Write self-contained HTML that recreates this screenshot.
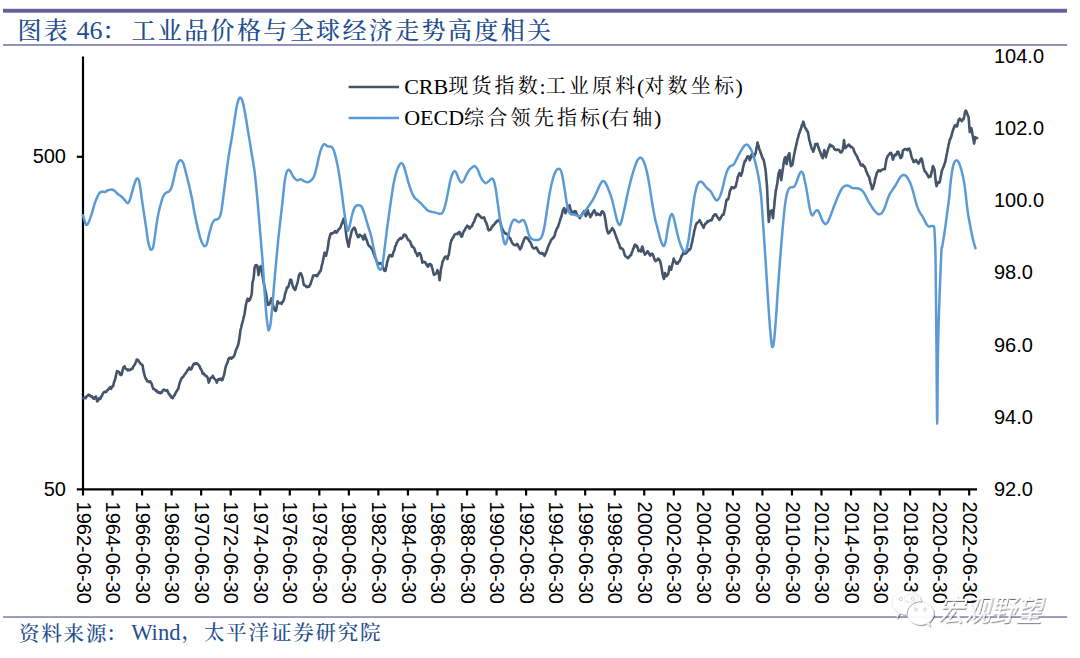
<!DOCTYPE html>
<html lang="zh-CN">
<head>
<meta charset="utf-8">
<title>图表 46: 工业品价格与全球经济走势高度相关</title>
<style>
html,body{margin:0;padding:0;background:#fff;}
body{width:1080px;height:658px;overflow:hidden;position:relative;}
svg{position:absolute;left:0;top:0;display:block;}
.ax{font-family:"Liberation Sans", sans-serif;font-size:20px;fill:#000;}
.ttl{fill:#1f4e8f;font-weight:500;}
.lat{font-family:"Liberation Serif", serif;}
.cjk{font-family:"Liberation Serif", "Noto Serif CJK SC", serif;}
.lg{fill:#000;}
.wm{font-family:"Liberation Sans","Noto Sans CJK SC",sans-serif;font-size:28.5px;fill:#fff;font-weight:400;}
</style>
</head>
<body>
<svg width="1080" height="658" viewBox="0 0 1080 658">
<defs>
<filter id="sh" x="-10%" y="-10%" width="125%" height="130%">
<feDropShadow dx="1.0" dy="1.0" stdDeviation="0.3" flood-color="#000" flood-opacity="0.7"/>
</filter>
<filter id="sh2" x="-10%" y="-10%" width="125%" height="130%">
<feDropShadow dx="0.9" dy="0.9" stdDeviation="0.3" flood-color="#000" flood-opacity="0.6"/>
</filter>
</defs>
<rect width="1080" height="658" fill="#fff"/>

<rect x="3" y="8.8" width="1064" height="3.9" fill="#62619a"/>
<rect x="3" y="44" width="1064.2" height="1.9" fill="#8c8bb9"/>
<rect x="3" y="616.2" width="1064.2" height="1.7" fill="#8c8bb9"/>
<g class="ttl" id="title">
<text class="cjk" x="17.5" y="39" font-size="24" letter-spacing="2.3">图表</text>
<text class="lat" x="76.6" y="39.2" font-size="26">46</text>
<text class="cjk" x="102.2" y="39" font-size="24">：</text>
<text class="cjk" x="131.5" y="39" font-size="24" letter-spacing="2.37">工业品价格与全球经济走势高度相关</text>
</g>
<g class="ttl" id="source">
<text class="cjk" x="19" y="640.5" font-size="20.5" letter-spacing="1.8">资料来源</text>
<text class="cjk" x="106.2" y="640.5" font-size="20.5">：</text>
<text class="lat" x="131.2" y="639.9" font-size="22.6">Wind</text>
<text class="cjk" x="181.6" y="639.2" font-size="20.5">，</text>
<text class="cjk" x="204" y="639.8" font-size="20.5" letter-spacing="1.8">太平洋证券研究院</text>
</g>
<g stroke="#000" stroke-width="2.2" fill="none" stroke-linecap="butt">
<path d="M83.0,56.5 V495.5"/>
<path d="M76.8,489.3 H977.0"/>
<path d="M76.8,156.8 H83.0"/>
<path d="M112.54,489.3 v6.2 M142.08,489.3 v6.2 M171.62,489.3 v6.2 M201.16,489.3 v6.2 M230.70,489.3 v6.2 M260.24,489.3 v6.2 M289.78,489.3 v6.2 M319.32,489.3 v6.2 M348.86,489.3 v6.2 M378.40,489.3 v6.2 M407.94,489.3 v6.2 M437.48,489.3 v6.2 M467.02,489.3 v6.2 M496.56,489.3 v6.2 M526.10,489.3 v6.2 M555.64,489.3 v6.2 M585.18,489.3 v6.2 M614.72,489.3 v6.2 M644.26,489.3 v6.2 M673.80,489.3 v6.2 M703.34,489.3 v6.2 M732.88,489.3 v6.2 M762.42,489.3 v6.2 M791.96,489.3 v6.2 M821.50,489.3 v6.2 M851.04,489.3 v6.2 M880.58,489.3 v6.2 M910.12,489.3 v6.2 M939.66,489.3 v6.2 M969.20,489.3 v6.2"/>
</g>
<text class="ax" x="66" y="163.4" text-anchor="end">500</text>
<text class="ax" x="66" y="495.9" text-anchor="end">50</text>
<text class="ax" x="994" y="63.1">104.0</text>
<text class="ax" x="994" y="135.2">102.0</text>
<text class="ax" x="994" y="207.3">100.0</text>
<text class="ax" x="994" y="279.4">98.0</text>
<text class="ax" x="994" y="351.5">96.0</text>
<text class="ax" x="994" y="423.6">94.0</text>
<text class="ax" x="994" y="495.7">92.0</text>
<text class="ax" transform="translate(76.60,501.6) rotate(90)">1962-06-30</text>
<text class="ax" transform="translate(106.14,501.6) rotate(90)">1964-06-30</text>
<text class="ax" transform="translate(135.68,501.6) rotate(90)">1966-06-30</text>
<text class="ax" transform="translate(165.22,501.6) rotate(90)">1968-06-30</text>
<text class="ax" transform="translate(194.76,501.6) rotate(90)">1970-06-30</text>
<text class="ax" transform="translate(224.30,501.6) rotate(90)">1972-06-30</text>
<text class="ax" transform="translate(253.84,501.6) rotate(90)">1974-06-30</text>
<text class="ax" transform="translate(283.38,501.6) rotate(90)">1976-06-30</text>
<text class="ax" transform="translate(312.92,501.6) rotate(90)">1978-06-30</text>
<text class="ax" transform="translate(342.46,501.6) rotate(90)">1980-06-30</text>
<text class="ax" transform="translate(372.00,501.6) rotate(90)">1982-06-30</text>
<text class="ax" transform="translate(401.54,501.6) rotate(90)">1984-06-30</text>
<text class="ax" transform="translate(431.08,501.6) rotate(90)">1986-06-30</text>
<text class="ax" transform="translate(460.62,501.6) rotate(90)">1988-06-30</text>
<text class="ax" transform="translate(490.16,501.6) rotate(90)">1990-06-30</text>
<text class="ax" transform="translate(519.70,501.6) rotate(90)">1992-06-30</text>
<text class="ax" transform="translate(549.24,501.6) rotate(90)">1994-06-30</text>
<text class="ax" transform="translate(578.78,501.6) rotate(90)">1996-06-30</text>
<text class="ax" transform="translate(608.32,501.6) rotate(90)">1998-06-30</text>
<text class="ax" transform="translate(637.86,501.6) rotate(90)">2000-06-30</text>
<text class="ax" transform="translate(667.40,501.6) rotate(90)">2002-06-30</text>
<text class="ax" transform="translate(696.94,501.6) rotate(90)">2004-06-30</text>
<text class="ax" transform="translate(726.48,501.6) rotate(90)">2006-06-30</text>
<text class="ax" transform="translate(756.02,501.6) rotate(90)">2008-06-30</text>
<text class="ax" transform="translate(785.56,501.6) rotate(90)">2010-06-30</text>
<text class="ax" transform="translate(815.10,501.6) rotate(90)">2012-06-30</text>
<text class="ax" transform="translate(844.64,501.6) rotate(90)">2014-06-30</text>
<text class="ax" transform="translate(874.18,501.6) rotate(90)">2016-06-30</text>
<text class="ax" transform="translate(903.72,501.6) rotate(90)">2018-06-30</text>
<text class="ax" transform="translate(933.26,501.6) rotate(90)">2020-06-30</text>
<text class="ax" transform="translate(962.80,501.6) rotate(90)">2022-06-30</text>
<path d="M83.0,398.2 L83.7,397.9 L84.3,397.6 L84.9,398.2 L85.6,398.2 L86.2,396.8 L86.8,396.6 L87.4,395.7 L88.0,395.2 L88.6,394.7 L89.2,395.5 L89.8,395.2 L90.4,396.0 L91.0,396.6 L91.6,396.2 L92.2,396.6 L92.8,397.5 L93.4,398.8 L94.0,398.8 L94.7,397.6 L95.3,396.7 L96.0,396.6 L96.6,399.0 L97.2,401.3 L97.8,401.0 L98.5,399.6 L99.1,398.2 L99.6,398.1 L100.2,398.9 L100.7,398.2 L101.3,396.4 L101.9,396.1 L102.5,394.2 L103.1,393.2 L103.8,392.3 L104.4,391.9 L105.0,391.9 L105.7,392.2 L106.3,391.9 L106.9,390.5 L107.5,390.3 L108.1,389.6 L108.8,389.0 L109.4,387.9 L110.1,387.2 L110.6,388.0 L111.1,388.8 L111.8,387.2 L112.4,386.2 L113.1,386.2 L113.8,383.1 L114.4,381.6 L115.1,379.2 L115.8,376.4 L116.4,373.5 L117.1,371.2 L117.8,371.6 L118.4,371.8 L119.1,372.2 L119.6,373.1 L120.1,374.6 L120.6,375.0 L121.2,375.0 L121.7,374.6 L122.4,371.1 L123.1,368.2 L123.6,367.6 L124.0,366.9 L124.5,366.2 L125.2,367.8 L125.8,368.8 L126.5,369.2 L127.2,369.3 L127.8,370.4 L128.4,369.6 L129.1,370.2 L129.8,369.7 L130.5,370.0 L131.1,368.9 L131.8,368.9 L132.5,368.8 L133.2,366.6 L133.9,366.0 L134.6,364.6 L135.2,363.8 L135.7,362.3 L136.2,361.4 L136.8,359.5 L137.5,359.7 L138.2,360.1 L138.9,361.4 L139.5,362.3 L140.2,363.1 L140.8,363.8 L141.4,364.1 L142.0,365.2 L142.6,365.2 L143.2,369.6 L143.8,372.2 L144.5,374.9 L145.2,377.2 L145.9,378.9 L146.5,379.3 L147.2,381.2 L147.8,381.3 L148.4,381.5 L149.0,382.1 L149.6,382.0 L150.2,381.2 L150.7,382.1 L151.3,383.0 L151.8,384.2 L152.5,386.7 L153.2,388.8 L153.8,388.6 L154.5,389.5 L155.2,389.7 L155.8,390.8 L156.4,390.5 L157.0,390.8 L157.6,392.3 L158.2,392.6 L158.9,392.3 L159.5,392.4 L160.2,393.2 L160.9,392.4 L161.5,392.8 L162.2,391.8 L162.7,390.5 L163.3,390.1 L163.8,389.6 L164.5,389.7 L165.2,390.5 L165.8,390.7 L166.5,390.9 L167.2,390.2 L167.7,391.3 L168.2,392.4 L168.7,393.8 L169.4,394.2 L170.0,395.7 L170.7,395.8 L171.4,397.5 L172.0,397.1 L172.7,398.2 L173.4,396.6 L174.0,395.6 L174.7,395.2 L175.4,393.3 L176.0,392.3 L176.7,391.2 L177.2,390.5 L177.8,389.2 L178.3,388.8 L179.0,385.4 L179.6,383.3 L180.3,381.2 L181.0,379.5 L181.6,378.5 L182.3,377.2 L183.0,377.1 L183.6,376.1 L184.3,374.8 L185.0,374.1 L185.6,373.3 L186.3,372.2 L186.9,371.6 L187.5,369.8 L188.1,369.9 L188.7,369.1 L189.3,367.6 L190.0,368.9 L190.6,369.4 L191.3,369.2 L192.0,367.7 L192.6,366.0 L193.3,364.6 L194.0,363.7 L194.6,364.2 L195.2,363.3 L195.9,363.8 L196.6,363.2 L197.3,363.8 L198.0,364.1 L198.7,365.2 L199.2,365.8 L199.8,366.6 L200.3,368.6 L200.9,368.8 L201.5,370.3 L202.1,371.6 L202.7,373.8 L203.4,373.7 L204.1,373.6 L204.7,375.2 L205.4,375.2 L206.1,376.1 L206.7,376.1 L207.4,377.2 L207.9,378.5 L208.3,380.4 L208.8,382.6 L209.5,380.7 L210.1,378.7 L210.8,377.8 L211.5,377.5 L212.1,377.4 L212.8,375.8 L213.5,377.1 L214.1,378.1 L214.8,379.2 L215.5,379.7 L216.1,380.6 L216.8,382.6 L217.3,381.0 L217.9,379.8 L218.4,379.2 L219.1,379.6 L219.7,378.8 L220.4,379.2 L221.1,378.6 L221.7,380.3 L222.4,380.2 L222.9,378.7 L223.5,376.4 L224.0,375.2 L224.7,372.1 L225.3,368.4 L226.0,366.2 L226.6,364.2 L227.2,363.4 L227.8,361.7 L228.4,359.1 L228.9,359.0 L229.4,357.7 L230.1,357.8 L230.7,358.1 L231.4,358.7 L232.1,357.4 L232.7,357.7 L233.3,356.9 L234.0,356.1 L234.6,354.8 L235.2,352.5 L235.8,350.4 L236.4,349.1 L237.0,347.7 L237.6,346.5 L238.2,344.7 L238.8,342.1 L239.3,338.8 L239.9,334.8 L240.4,330.1 L241.1,328.1 L241.8,324.6 L242.5,322.2 L243.2,319.5 L243.8,316.7 L244.5,314.3 L245.2,309.5 L245.8,305.3 L246.5,302.3 L247.1,299.8 L247.7,298.7 L248.3,299.2 L248.9,300.9 L249.4,300.0 L250.0,299.7 L250.5,297.9 L251.1,296.2 L251.7,294.3 L252.1,289.0 L252.5,282.2 L253.1,280.7 L253.7,277.2 L254.1,273.7 L254.5,268.2 L255.0,266.8 L255.5,265.2 L256.1,265.1 L256.7,265.3 L257.3,266.2 L257.9,270.0 L258.5,275.2 L259.1,270.5 L259.7,267.2 L260.2,266.9 L260.6,267.2 L261.1,266.2 L261.8,271.9 L262.5,276.2 L263.2,279.7 L263.8,283.2 L264.5,286.2 L265.2,290.1 L265.8,292.4 L266.5,296.3 L267.1,300.4 L267.7,304.3 L268.3,304.9 L268.9,304.7 L269.5,303.9 L270.2,302.6 L270.8,300.3 L271.5,298.3 L272.2,300.8 L272.9,304.3 L273.4,306.5 L274.0,307.9 L274.5,309.9 L275.0,310.5 L275.6,311.1 L276.1,310.3 L276.6,307.4 L277.1,304.2 L277.6,301.3 L278.3,302.6 L278.9,303.2 L279.6,303.3 L280.3,303.1 L280.9,303.0 L281.6,303.9 L282.3,301.9 L282.9,301.9 L283.6,300.3 L284.3,298.2 L284.9,294.6 L285.6,292.3 L286.3,290.2 L287.0,287.2 L287.5,287.8 L288.1,287.1 L288.6,286.2 L289.1,284.0 L289.7,282.0 L290.2,279.8 L290.7,279.7 L291.1,279.8 L291.6,281.2 L292.3,284.4 L293.0,286.6 L293.7,288.1 L294.3,289.0 L295.0,290.0 L295.7,288.8 L296.3,286.2 L297.0,284.2 L297.7,281.8 L298.3,278.9 L299.0,275.2 L299.5,274.3 L300.1,273.4 L300.6,273.2 L301.3,274.2 L302.0,276.2 L302.7,278.6 L303.3,282.2 L304.0,285.2 L304.6,285.2 L305.2,285.8 L305.8,285.7 L306.4,286.8 L307.1,287.2 L307.8,286.6 L308.4,286.6 L309.1,286.6 L309.8,285.2 L310.4,284.3 L311.1,282.2 L311.8,280.1 L312.4,278.5 L313.1,275.6 L313.8,275.7 L314.4,275.4 L315.1,275.2 L315.8,275.6 L316.4,275.1 L317.1,276.2 L317.8,274.9 L318.4,273.6 L319.1,273.2 L319.8,271.2 L320.5,271.2 L321.2,268.7 L321.8,265.3 L322.5,263.1 L323.2,259.5 L323.8,256.5 L324.5,252.7 L325.0,253.9 L325.6,254.5 L326.1,255.7 L326.6,253.1 L327.2,250.7 L327.7,248.1 L328.2,245.6 L328.6,241.6 L329.1,239.1 L329.6,237.3 L330.2,235.1 L330.7,233.7 L331.3,233.1 L331.9,233.7 L332.5,233.3 L333.1,233.1 L333.8,232.5 L334.4,232.2 L335.1,231.0 L335.8,232.6 L336.5,232.6 L337.0,231.9 L337.6,231.1 L338.1,230.0 L338.8,229.4 L339.4,228.7 L340.1,228.0 L340.8,226.7 L341.4,224.7 L342.1,223.0 L342.6,221.6 L343.2,220.0 L343.7,218.6 L344.2,221.4 L344.7,223.4 L345.2,225.0 L345.7,230.5 L346.3,235.3 L346.8,239.1 L347.4,241.5 L348.0,244.2 L348.6,246.7 L349.2,243.6 L349.8,239.1 L350.5,236.9 L351.2,233.1 L351.7,231.5 L352.3,229.9 L352.8,229.4 L353.4,228.6 L354.0,227.7 L354.6,228.0 L355.1,229.1 L355.7,230.5 L356.2,233.1 L356.9,234.4 L357.5,236.2 L358.2,237.1 L358.7,237.1 L359.3,235.2 L359.8,234.7 L360.5,235.4 L361.1,236.0 L361.8,236.1 L362.3,236.8 L362.9,238.8 L363.4,239.5 L363.9,238.8 L364.3,236.1 L364.8,234.7 L365.4,237.2 L366.0,238.3 L366.6,240.1 L367.2,241.6 L367.9,243.9 L368.6,245.4 L369.2,246.1 L369.9,246.4 L370.5,247.2 L371.1,248.0 L371.8,248.7 L372.5,250.2 L373.1,251.7 L373.8,254.1 L374.4,255.1 L375.0,257.3 L375.6,257.9 L376.2,260.1 L376.9,261.5 L377.5,263.0 L378.2,264.7 L378.7,263.5 L379.2,263.4 L379.8,263.5 L380.3,263.1 L381.0,263.7 L381.6,263.5 L382.3,264.7 L382.8,266.9 L383.4,268.6 L383.9,269.6 L384.4,270.9 L385.0,270.1 L385.5,270.8 L386.1,267.5 L386.7,265.1 L387.2,261.9 L387.8,260.6 L388.3,258.1 L388.8,256.8 L389.4,255.4 L389.9,255.1 L390.5,255.0 L391.1,256.2 L391.7,256.5 L392.3,256.1 L392.8,254.3 L393.4,252.2 L393.9,251.1 L394.4,249.9 L394.8,248.0 L395.3,246.1 L396.0,245.2 L396.6,242.9 L397.3,242.1 L398.0,240.2 L398.6,240.1 L399.3,239.1 L399.9,238.7 L400.6,237.9 L401.2,238.8 L401.9,238.1 L402.5,237.6 L403.1,236.9 L403.7,234.9 L404.3,234.5 L405.0,235.5 L405.6,235.0 L406.3,236.1 L407.0,237.8 L407.6,238.8 L408.3,240.1 L409.0,240.3 L409.6,241.0 L410.3,241.5 L410.8,243.9 L411.4,244.8 L411.9,246.7 L412.6,246.4 L413.2,247.2 L413.9,247.7 L414.4,248.7 L414.9,249.9 L415.4,252.1 L416.1,252.7 L416.7,253.8 L417.4,256.1 L418.1,254.3 L418.7,253.6 L419.4,253.1 L419.9,253.3 L420.3,254.7 L420.8,255.1 L421.3,257.4 L421.9,260.1 L422.4,262.7 L423.1,262.0 L423.7,261.9 L424.4,262.1 L425.1,262.1 L425.7,263.2 L426.4,264.7 L426.9,264.4 L427.5,266.1 L428.0,266.7 L428.7,265.5 L429.4,264.1 L430.1,264.0 L430.7,264.6 L431.4,265.1 L431.9,267.4 L432.3,268.1 L432.8,270.2 L433.4,272.9 L434.0,274.8 L434.7,274.4 L435.3,274.0 L436.0,273.6 L436.7,272.4 L437.4,270.2 L437.9,271.5 L438.3,272.9 L438.8,274.2 L439.2,277.5 L439.6,280.2 L440.2,276.1 L440.8,270.2 L441.3,267.5 L441.9,265.3 L442.4,262.1 L443.1,261.1 L443.7,259.5 L444.4,257.7 L444.9,257.3 L445.5,256.6 L446.0,256.5 L446.7,257.0 L447.4,259.1 L447.9,256.9 L448.3,255.5 L448.8,255.1 L449.3,251.5 L449.9,247.4 L450.4,244.1 L450.9,242.0 L451.4,240.2 L452.0,239.9 L452.5,238.1 L453.2,237.6 L453.8,236.3 L454.5,234.7 L455.1,234.4 L455.7,234.0 L456.3,233.9 L456.9,234.0 L457.5,234.1 L458.2,232.8 L458.8,232.4 L459.5,232.0 L460.2,233.1 L460.8,235.7 L461.5,236.7 L462.2,236.1 L462.8,233.9 L463.5,232.0 L464.1,230.5 L464.8,230.4 L465.5,228.4 L466.1,227.4 L466.6,226.7 L467.2,225.6 L467.7,226.0 L468.3,226.4 L468.9,227.6 L469.5,228.6 L470.1,227.9 L470.8,226.8 L471.5,226.5 L472.1,226.0 L472.8,223.8 L473.4,222.7 L474.1,222.0 L474.8,219.4 L475.4,218.0 L476.1,216.6 L476.8,214.8 L477.5,214.7 L478.2,214.1 L478.8,214.9 L479.5,215.9 L480.2,216.0 L480.8,217.2 L481.5,217.9 L482.1,217.8 L482.8,218.0 L483.5,217.8 L484.1,217.3 L484.8,219.4 L485.4,221.4 L486.1,222.3 L486.7,224.3 L487.4,226.0 L488.0,229.0 L488.6,230.3 L489.3,229.6 L489.9,229.9 L490.6,229.3 L491.2,228.6 L491.8,226.7 L492.4,226.6 L493.0,225.3 L493.6,225.3 L494.3,224.2 L495.0,223.6 L495.6,222.3 L496.2,222.4 L496.9,220.9 L497.6,220.7 L498.2,220.3 L498.9,220.6 L499.5,221.5 L500.2,221.3 L500.9,224.5 L501.5,226.5 L502.1,228.7 L502.8,229.5 L503.3,230.8 L503.9,232.1 L504.4,232.3 L505.0,233.3 L505.7,233.8 L506.4,233.5 L507.0,234.3 L507.7,234.5 L508.3,235.5 L509.0,237.3 L509.7,237.8 L510.3,238.5 L511.0,240.3 L511.7,241.8 L512.3,242.9 L513.0,243.9 L513.6,244.5 L514.3,244.9 L515.0,245.3 L515.6,245.3 L516.3,245.1 L516.9,243.9 L517.6,244.3 L518.2,245.8 L518.9,247.3 L519.5,248.2 L520.1,249.3 L520.6,248.4 L521.2,247.6 L521.7,246.3 L522.4,243.7 L523.0,242.5 L523.7,240.3 L524.3,239.2 L524.9,238.0 L525.5,237.4 L526.1,237.3 L526.7,238.0 L527.3,237.9 L527.9,239.1 L528.5,239.3 L529.2,241.1 L529.8,241.5 L530.5,242.3 L531.2,243.9 L531.8,245.6 L532.5,247.3 L533.2,247.9 L533.8,248.5 L534.5,248.3 L535.0,248.3 L535.6,248.0 L536.1,247.3 L536.8,248.1 L537.4,249.2 L538.1,251.3 L538.8,251.4 L539.4,252.8 L540.1,253.3 L540.7,253.2 L541.3,253.6 L541.9,253.0 L542.5,253.9 L543.2,253.6 L543.8,254.6 L544.5,255.9 L545.2,254.4 L545.8,253.2 L546.5,251.3 L547.1,249.9 L547.8,247.6 L548.5,246.0 L549.1,244.3 L549.8,243.0 L550.4,241.7 L551.1,239.9 L551.7,239.3 L552.3,239.0 L553.0,237.5 L553.6,237.7 L554.2,236.3 L554.8,235.4 L555.4,232.2 L556.0,230.8 L556.6,229.2 L557.2,228.1 L557.9,227.1 L558.6,224.9 L559.2,223.2 L559.9,220.9 L560.5,218.6 L561.2,217.2 L561.9,214.7 L562.6,211.2 L563.1,209.9 L563.7,209.2 L564.2,208.2 L564.8,210.1 L565.4,213.2 L566.0,211.7 L566.6,211.2 L567.2,209.2 L567.8,207.8 L568.4,207.6 L569.0,206.3 L569.6,205.2 L570.1,207.9 L570.7,209.7 L571.2,211.2 L571.9,211.6 L572.5,213.1 L573.2,213.2 L573.9,212.7 L574.5,211.1 L575.2,211.2 L575.9,211.5 L576.5,213.6 L577.2,215.2 L577.9,215.8 L578.5,216.3 L579.1,216.8 L579.8,218.2 L580.4,216.7 L581.0,215.8 L581.6,215.6 L582.2,214.2 L582.9,212.5 L583.5,212.4 L584.2,211.2 L584.7,213.5 L585.3,214.1 L585.8,216.2 L586.5,214.8 L587.1,212.7 L587.8,210.2 L588.4,212.7 L589.0,213.6 L589.7,215.2 L590.3,217.2 L591.0,215.6 L591.6,215.3 L592.3,213.2 L593.0,212.6 L593.6,211.1 L594.3,210.2 L595.0,211.7 L595.6,213.1 L596.3,215.2 L597.0,214.0 L597.6,213.6 L598.3,214.2 L599.0,214.8 L599.6,214.6 L600.3,215.2 L600.8,214.5 L601.4,212.3 L601.9,211.2 L602.6,211.4 L603.2,212.4 L603.9,213.2 L604.6,215.7 L605.3,219.2 L605.8,221.8 L606.2,225.8 L606.7,228.2 L607.2,230.7 L607.8,232.3 L608.3,233.3 L609.0,232.9 L609.6,232.4 L610.3,230.8 L611.0,230.8 L611.6,229.3 L612.3,228.0 L613.0,229.6 L613.6,229.8 L614.3,231.5 L615.0,233.5 L615.6,235.1 L616.3,237.0 L616.9,238.9 L617.5,240.0 L618.1,242.2 L618.8,243.5 L619.4,244.8 L620.0,247.5 L620.6,248.4 L621.2,247.9 L621.8,248.6 L622.4,248.9 L623.0,249.6 L623.6,250.8 L624.2,253.1 L624.9,255.3 L625.5,256.1 L626.1,256.5 L626.8,257.3 L627.5,257.3 L628.1,258.1 L628.7,257.5 L629.3,256.7 L629.9,255.7 L630.5,255.0 L631.1,255.1 L631.8,252.4 L632.4,251.5 L633.1,249.1 L633.8,247.7 L634.4,245.6 L635.1,244.5 L635.8,245.5 L636.4,246.5 L637.1,246.0 L637.6,247.9 L638.1,248.9 L638.6,251.1 L639.2,250.6 L639.9,250.5 L640.5,251.0 L641.1,251.6 L641.7,248.2 L642.3,246.5 L643.0,248.4 L643.6,251.6 L644.2,252.5 L644.9,254.6 L645.6,253.7 L646.2,253.5 L646.9,252.6 L647.6,251.1 L648.2,252.3 L648.9,253.2 L649.5,254.5 L650.1,255.6 L650.8,254.7 L651.4,253.9 L652.1,253.6 L652.8,254.3 L653.4,256.0 L654.1,258.1 L654.6,259.7 L655.1,259.7 L655.6,261.1 L656.2,260.4 L656.9,260.0 L657.5,259.9 L658.1,258.6 L658.8,259.2 L659.4,259.8 L660.1,261.1 L660.6,262.9 L661.1,265.4 L661.6,268.1 L662.1,270.9 L662.6,274.1 L663.3,277.2 L664.0,278.9 L664.5,276.8 L665.0,273.1 L665.6,274.9 L666.1,274.6 L666.7,276.1 L667.2,274.5 L667.7,274.8 L668.2,274.1 L668.8,271.0 L669.4,266.6 L670.0,267.8 L670.6,268.8 L671.2,269.6 L671.7,266.7 L672.2,264.9 L672.7,263.1 L673.2,261.4 L673.7,258.6 L674.4,260.5 L675.0,261.7 L675.7,262.1 L676.4,263.6 L677.0,263.0 L677.7,263.6 L678.4,262.1 L679.0,261.2 L679.7,261.1 L680.4,259.1 L681.0,257.7 L681.7,255.6 L682.2,255.4 L682.7,254.2 L683.2,252.6 L683.8,253.3 L684.5,253.6 L685.1,253.4 L685.7,253.6 L686.3,253.0 L687.0,251.4 L687.6,251.6 L688.2,250.6 L688.8,249.6 L689.5,249.9 L690.1,249.1 L690.7,248.1 L691.2,245.9 L691.7,243.4 L692.2,242.0 L692.8,238.4 L693.4,236.0 L693.9,233.2 L694.4,230.3 L695.0,228.6 L695.6,225.7 L696.2,224.2 L696.9,222.7 L697.5,222.7 L698.2,222.2 L698.9,221.3 L699.6,220.2 L700.3,221.4 L700.9,222.4 L701.6,224.2 L702.3,225.4 L702.9,225.8 L703.6,227.8 L704.3,225.7 L704.9,224.5 L705.6,223.2 L706.3,223.2 L706.9,222.3 L707.6,221.2 L708.3,221.7 L708.9,221.0 L709.6,220.6 L710.3,220.1 L710.9,219.9 L711.6,220.3 L712.3,218.9 L713.0,216.3 L713.7,216.1 L714.3,214.8 L715.0,214.3 L715.7,214.2 L716.3,215.4 L717.0,216.3 L717.6,217.4 L718.2,218.0 L718.8,218.6 L719.4,219.9 L720.1,218.8 L720.7,218.2 L721.4,216.3 L722.0,215.7 L722.5,214.7 L723.0,214.6 L723.6,214.7 L724.3,211.2 L725.0,208.3 L725.7,204.5 L726.4,200.3 L726.9,199.4 L727.5,199.6 L728.0,199.3 L728.5,198.3 L729.0,195.8 L729.6,192.5 L730.1,190.3 L730.6,189.9 L731.2,188.1 L731.7,187.2 L732.4,188.0 L733.0,187.6 L733.7,188.2 L734.4,187.1 L735.0,187.4 L735.7,186.6 L736.4,183.2 L737.0,181.0 L737.7,177.2 L738.3,176.1 L738.9,174.1 L739.5,173.2 L740.0,173.5 L740.6,174.6 L741.1,175.8 L741.6,173.8 L742.2,172.2 L742.7,169.2 L743.3,166.5 L743.9,164.3 L744.5,162.2 L745.0,160.7 L745.6,160.8 L746.1,159.2 L746.8,157.8 L747.4,156.4 L748.1,156.2 L748.6,156.6 L749.2,158.4 L749.7,160.2 L750.4,158.7 L751.0,157.0 L751.7,154.2 L752.4,155.5 L753.0,156.5 L753.7,156.2 L754.4,156.2 L755.0,154.2 L755.7,153.1 L756.3,149.1 L756.9,146.6 L757.5,142.5 L758.0,144.9 L758.6,145.7 L759.1,148.1 L759.6,149.9 L760.2,151.3 L760.7,153.1 L761.3,154.5 L761.9,156.2 L762.5,158.2 L763.1,158.9 L763.6,159.9 L764.2,162.2 L764.7,164.9 L765.3,168.4 L765.8,172.2 L766.4,179.8 L767.0,186.2 L767.4,194.8 L767.8,204.3 L768.3,213.7 L768.8,221.9 L769.3,218.1 L769.7,214.5 L770.2,211.3 L770.7,211.4 L771.3,211.3 L771.8,210.3 L772.4,214.4 L773.0,218.3 L773.6,211.6 L774.2,206.3 L774.7,200.7 L775.3,195.4 L775.8,190.3 L776.3,188.9 L776.7,185.9 L777.2,184.2 L777.9,178.4 L778.6,173.2 L779.2,172.2 L779.8,170.2 L780.3,172.9 L780.7,176.5 L781.2,180.2 L781.9,175.6 L782.6,170.2 L783.1,167.4 L783.7,163.0 L784.2,160.2 L784.8,157.8 L785.4,157.2 L786.0,159.7 L786.6,164.2 L787.1,161.6 L787.7,157.9 L788.2,155.2 L788.8,154.5 L789.4,153.1 L790.1,160.4 L790.8,166.2 L791.3,165.8 L791.7,165.2 L792.2,165.2 L792.9,162.2 L793.5,158.2 L794.2,154.2 L794.9,150.9 L795.5,148.4 L796.2,145.1 L796.9,142.2 L797.5,139.3 L798.2,137.1 L798.9,133.8 L799.6,132.6 L800.3,130.1 L800.8,129.1 L801.4,127.2 L801.9,125.1 L802.6,124.2 L803.3,121.7 L803.8,123.0 L804.2,124.7 L804.7,127.1 L805.2,127.6 L805.8,129.1 L806.3,129.1 L806.8,131.0 L807.4,131.2 L807.9,132.1 L808.6,135.7 L809.3,140.1 L810.0,142.2 L810.6,144.7 L811.3,147.1 L812.0,149.3 L812.6,149.9 L813.3,151.7 L814.0,149.6 L814.6,147.1 L815.3,144.1 L816.0,144.6 L816.6,144.5 L817.3,143.7 L818.0,146.2 L818.6,147.8 L819.3,150.1 L820.0,151.5 L820.6,153.2 L821.3,155.2 L821.8,156.6 L822.2,156.6 L822.7,158.2 L823.2,154.8 L823.8,153.0 L824.3,150.1 L824.8,152.1 L825.4,154.0 L825.9,157.2 L826.6,153.8 L827.2,152.3 L827.9,150.1 L828.6,147.9 L829.2,147.0 L829.9,144.5 L830.5,145.7 L831.1,146.3 L831.7,145.6 L832.3,146.1 L833.0,146.4 L833.6,147.2 L834.3,149.1 L834.9,149.1 L835.5,149.9 L836.2,149.8 L836.8,150.1 L837.5,149.5 L838.1,149.6 L838.8,149.7 L839.5,150.7 L840.1,151.9 L840.8,152.5 L841.5,152.1 L842.1,151.3 L842.8,149.7 L843.4,145.4 L844.0,140.1 L844.5,143.6 L845.0,148.1 L845.6,148.0 L846.2,146.8 L846.8,146.5 L847.5,145.9 L848.1,145.0 L848.8,144.5 L849.5,145.7 L850.1,145.8 L850.8,147.1 L851.5,146.9 L852.1,147.2 L852.8,148.1 L853.5,148.8 L854.1,151.4 L854.8,152.5 L855.5,154.0 L856.1,154.8 L856.8,156.2 L857.5,157.3 L858.1,159.6 L858.8,160.2 L859.5,162.1 L860.1,163.2 L860.8,165.2 L861.5,165.4 L862.1,165.2 L862.8,164.6 L863.5,166.4 L864.1,166.0 L864.8,167.2 L865.5,168.7 L866.1,171.0 L866.8,172.2 L867.5,174.2 L868.1,175.7 L868.8,176.2 L869.4,178.1 L869.9,180.4 L870.5,183.2 L871.0,184.5 L871.6,186.5 L872.1,189.3 L872.8,188.3 L873.5,186.2 L874.0,184.2 L874.6,182.3 L875.1,179.2 L875.7,177.0 L876.3,175.4 L876.9,172.6 L877.6,171.9 L878.2,170.6 L878.9,170.2 L879.6,170.7 L880.2,171.3 L880.9,170.6 L881.6,169.7 L882.2,169.7 L882.9,169.2 L883.6,169.4 L884.2,168.8 L884.9,169.2 L885.4,165.5 L886.0,161.9 L886.5,159.2 L887.2,157.2 L887.8,155.9 L888.5,155.2 L889.0,154.4 L889.5,154.0 L890.0,153.0 L890.5,152.9 L891.0,152.8 L891.5,154.0 L892.0,155.3 L892.5,157.9 L893.0,159.6 L893.5,157.8 L894.0,156.4 L894.5,155.5 L895.0,154.7 L895.5,155.5 L896.0,155.0 L896.6,154.0 L897.2,152.0 L897.8,151.5 L898.4,151.9 L899.0,154.0 L899.5,154.9 L900.0,156.7 L900.5,158.1 L901.0,157.8 L901.5,156.4 L902.0,156.5 L902.5,152.8 L903.0,150.5 L903.7,150.1 L904.3,149.4 L905.0,149.0 L905.7,149.0 L906.3,149.2 L907.0,150.0 L907.5,150.2 L908.0,149.1 L908.6,148.9 L909.1,148.5 L909.6,149.6 L910.1,151.0 L910.6,152.5 L911.1,154.9 L911.6,157.2 L912.1,158.1 L912.6,159.5 L913.1,160.3 L913.6,162.1 L914.3,161.8 L914.9,160.7 L915.6,160.6 L916.1,160.0 L916.6,161.6 L917.1,161.6 L917.6,162.3 L918.1,163.4 L918.6,163.6 L919.1,162.4 L919.6,161.9 L920.1,160.1 L920.6,159.7 L921.1,158.6 L921.6,158.6 L922.1,159.9 L922.6,163.1 L923.1,165.2 L923.6,167.6 L924.1,169.1 L924.6,171.0 L925.1,171.6 L925.8,172.0 L926.4,173.3 L927.1,174.1 L927.6,175.0 L928.1,176.2 L928.6,177.3 L929.3,176.5 L929.9,176.3 L930.6,176.6 L931.1,174.2 L931.6,172.1 L932.2,169.7 L932.9,166.1 L933.5,167.0 L934.0,168.6 L934.6,170.1 L935.1,175.5 L935.6,180.1 L936.1,184.0 L936.6,186.1 L937.1,184.5 L937.6,182.8 L938.1,182.1 L938.8,182.9 L939.4,182.6 L940.0,180.8 L940.6,177.1 L941.1,175.0 L941.6,171.8 L942.1,170.1 L942.6,169.2 L943.2,167.3 L943.7,166.6 L944.2,164.6 L944.7,163.5 L945.2,162.2 L945.7,160.1 L946.2,156.8 L946.7,154.2 L947.2,152.2 L947.7,149.1 L948.2,147.1 L948.7,144.3 L949.2,142.6 L949.7,139.6 L950.2,139.4 L950.7,137.6 L951.2,137.1 L951.7,134.6 L952.2,132.8 L952.7,131.1 L953.2,129.7 L953.7,128.2 L954.2,127.1 L954.7,125.8 L955.2,125.2 L955.7,125.1 L956.2,125.6 L956.7,126.5 L957.2,126.1 L957.7,123.4 L958.2,121.7 L958.7,119.6 L959.2,119.8 L959.7,118.6 L960.2,119.1 L960.7,120.1 L961.2,119.9 L961.7,121.1 L962.4,120.3 L963.0,119.5 L963.7,118.6 L964.2,116.5 L964.7,113.6 L965.2,111.5 L965.9,110.5 L966.5,111.8 L967.2,113.6 L967.7,115.0 L968.2,116.2 L968.7,117.6 L969.2,125.1 L969.8,132.1 L970.3,130.7 L970.8,129.3 L971.3,128.1 L971.8,130.0 L972.3,133.4 L972.8,136.1 L973.5,139.8 L974.1,143.6 L974.7,139.9 L975.3,137.1 L975.9,137.7 L976.5,138.3 L977.1,138.1" fill="none" stroke="#44546a" stroke-width="2.6" stroke-linejoin="round" stroke-linecap="round"/>
<path d="M83.0,215.2 C83.3,216.3 84.4,220.4 85.0,222.1 C85.6,223.8 85.9,225.2 86.6,225.1 C87.3,225.0 88.1,223.5 89.0,221.5 C89.9,219.5 91.0,216.2 92.0,213.0 C93.0,209.8 93.8,205.8 95.0,202.6 C96.2,199.4 97.8,195.5 99.0,193.7 C100.2,191.9 101.0,192.0 102.0,191.7 C103.0,191.4 104.0,192.1 105.0,191.9 C106.0,191.7 106.8,190.7 108.0,190.3 C109.2,189.9 110.8,189.3 112.0,189.5 C113.2,189.7 114.1,190.5 115.1,191.3 C116.1,192.1 117.1,193.5 118.1,194.3 C119.1,195.1 120.1,195.5 121.1,196.3 C122.1,197.1 123.0,198.2 124.1,199.3 C125.2,200.5 126.7,203.2 127.7,203.2 C128.7,203.2 129.2,201.8 130.1,199.3 C131.0,196.8 132.1,191.5 133.1,188.3 C134.1,185.1 135.1,182.0 135.8,180.3 C136.5,178.6 136.8,178.1 137.4,178.3 C138.0,178.5 138.6,178.6 139.2,181.3 C139.8,184.0 140.6,190.0 141.2,194.3 C141.8,198.6 142.5,203.6 143.0,207.0 C143.5,210.4 143.7,211.5 144.2,215.0 C144.7,218.5 145.5,223.6 146.2,228.1 C146.9,232.6 147.5,238.7 148.2,242.1 C148.9,245.5 149.7,247.4 150.2,248.7 C150.7,250.0 150.7,250.0 151.2,249.7 C151.7,249.4 152.5,249.7 153.2,247.1 C153.9,244.5 154.5,238.6 155.2,234.1 C155.9,229.6 156.5,224.1 157.2,220.1 C157.9,216.1 158.6,212.5 159.2,210.0 C159.8,207.5 159.8,207.3 160.5,205.0 C161.2,202.7 162.2,198.4 163.2,196.3 C164.1,194.2 165.2,193.5 166.2,192.7 C167.2,191.9 168.4,192.4 169.3,191.3 C170.2,190.2 171.1,188.8 171.9,186.3 C172.7,183.8 173.4,179.9 174.3,176.2 C175.2,172.5 176.3,166.9 177.3,164.2 C178.3,161.5 179.3,160.4 180.3,160.2 C181.3,160.0 182.3,160.9 183.3,163.2 C184.3,165.5 185.3,170.3 186.3,174.2 C187.3,178.0 188.3,182.0 189.3,186.3 C190.3,190.7 191.5,196.0 192.3,200.3 C193.1,204.6 193.5,207.7 194.3,212.0 C195.1,216.3 196.3,221.8 197.3,226.1 C198.3,230.4 199.3,234.9 200.3,238.1 C201.3,241.3 202.5,243.8 203.3,245.1 C204.1,246.4 204.3,246.3 204.9,246.1 C205.5,245.9 206.1,246.3 206.8,244.1 C207.6,241.9 208.5,236.4 209.4,233.1 C210.3,229.8 211.2,226.3 212.0,224.1 C212.8,221.9 213.3,221.0 214.4,220.1 C215.5,219.2 217.4,219.7 218.4,218.8 C219.4,218.0 219.9,216.6 220.4,215.0 C220.9,213.4 220.9,213.9 221.6,209.5 C222.3,205.1 223.3,196.9 224.4,188.3 C225.5,179.8 227.1,167.2 228.4,158.2 C229.7,149.2 231.1,142.4 232.4,134.1 C233.7,125.8 235.4,113.8 236.4,108.1 C237.4,102.4 237.8,101.8 238.4,100.0 C239.0,98.2 239.4,97.4 240.0,97.4 C240.6,97.4 241.3,97.9 242.1,100.0 C242.8,102.1 243.4,104.4 244.5,110.1 C245.6,115.8 247.2,126.1 248.5,134.1 C249.8,142.1 251.4,151.5 252.5,158.2 C253.6,164.9 254.1,167.2 254.9,174.2 C255.7,181.2 256.8,193.2 257.5,200.3 C258.2,207.4 258.4,211.0 258.9,217.0 C259.4,223.0 259.9,228.9 260.5,236.1 C261.1,243.3 261.8,251.2 262.5,260.2 C263.2,269.2 263.8,280.9 264.5,290.3 C265.2,299.7 265.9,310.0 266.5,316.3 C267.1,322.6 267.7,326.1 268.1,328.4 C268.5,330.7 268.5,330.7 268.9,330.0 C269.3,329.3 269.9,328.6 270.5,324.3 C271.1,320.0 271.8,311.7 272.5,304.3 C273.2,296.9 273.8,287.9 274.5,280.2 C275.2,272.5 275.8,265.6 276.5,258.2 C277.2,250.8 277.9,242.7 278.6,236.1 C279.3,229.5 279.9,224.3 280.6,218.5 C281.3,212.7 281.9,207.0 282.6,201.0 C283.3,195.0 283.9,187.1 284.6,182.3 C285.3,177.5 285.9,174.3 286.6,172.2 C287.3,170.1 288.0,169.9 288.6,169.8 C289.2,169.7 289.8,170.4 290.5,171.5 C291.2,172.6 292.1,174.8 293.0,176.2 C293.9,177.5 295.2,178.9 296.0,179.6 C296.8,180.3 297.2,180.3 298.0,180.2 C298.8,180.1 300.0,179.0 301.0,179.2 C302.0,179.4 303.0,180.7 304.0,181.2 C305.0,181.7 306.0,182.2 307.0,182.2 C308.0,182.2 309.1,181.9 310.1,181.2 C311.1,180.5 312.3,179.5 313.1,178.2 C313.9,176.8 314.4,175.3 315.1,173.1 C315.8,170.9 316.4,167.9 317.1,165.1 C317.8,162.3 318.4,158.8 319.1,156.1 C319.8,153.4 320.4,150.9 321.1,149.1 C321.8,147.3 322.5,145.9 323.1,145.1 C323.7,144.3 324.0,143.9 324.7,144.1 C325.4,144.3 326.4,145.7 327.1,146.1 C327.8,146.5 328.3,146.3 329.1,146.5 C329.9,146.7 330.9,146.5 331.7,147.1 C332.5,147.7 333.0,148.4 333.7,150.1 C334.4,151.8 335.0,154.4 335.7,157.1 C336.4,159.8 337.0,162.6 337.7,166.1 C338.4,169.6 339.0,173.8 339.7,178.2 C340.4,182.5 341.0,187.2 341.7,192.2 C342.4,197.2 343.0,203.2 343.7,208.2 C344.4,213.2 345.2,218.7 345.8,222.3 C346.4,225.9 347.0,228.6 347.4,229.9 C347.8,231.2 348.0,231.1 348.4,230.3 C348.8,229.5 349.2,227.6 349.8,225.3 C350.4,223.0 351.1,219.0 351.8,216.3 C352.5,213.6 353.1,210.9 353.8,209.2 C354.5,207.4 355.4,206.5 356.2,205.8 C357.0,205.1 357.8,205.1 358.6,205.2 C359.4,205.3 360.4,205.3 361.2,206.2 C362.0,207.0 362.4,208.3 363.2,210.3 C364.0,212.3 365.0,215.6 365.8,218.3 C366.6,221.0 367.3,223.3 368.2,226.3 C369.1,229.3 370.4,233.0 371.2,236.3 C372.0,239.6 372.4,242.6 373.2,246.2 C374.0,249.8 375.0,254.8 375.8,258.1 C376.6,261.4 377.2,264.2 377.8,266.1 C378.4,268.0 379.1,269.3 379.7,269.6 C380.3,269.9 381.1,269.9 381.7,268.1 C382.3,266.4 382.7,263.3 383.3,259.1 C383.9,254.9 384.6,248.4 385.3,243.1 C386.0,237.8 386.5,232.8 387.3,227.0 C388.1,221.2 389.1,213.7 389.9,208.2 C390.7,202.7 391.2,198.9 391.9,194.2 C392.6,189.5 393.5,184.0 394.3,180.2 C395.1,176.3 395.9,173.6 396.7,171.1 C397.5,168.6 398.5,166.4 399.3,165.1 C400.1,163.8 400.6,163.1 401.3,163.1 C402.0,163.1 402.5,163.4 403.3,165.1 C404.1,166.8 405.1,170.2 405.9,173.1 C406.7,175.9 407.4,179.2 408.3,182.2 C409.2,185.2 410.3,188.7 411.3,191.2 C412.3,193.7 413.3,195.7 414.3,197.2 C415.3,198.7 416.2,199.1 417.4,200.2 C418.6,201.3 420.1,202.5 421.4,203.8 C422.7,205.1 424.2,207.0 425.4,208.2 C426.6,209.4 427.2,210.3 428.4,210.9 C429.6,211.5 431.1,211.6 432.4,211.9 C433.7,212.2 435.1,212.6 436.4,212.9 C437.7,213.2 439.0,213.9 440.0,213.9 C441.0,213.9 441.7,213.6 442.4,212.7 C443.1,211.8 443.7,210.3 444.4,208.2 C445.1,206.1 445.7,203.2 446.4,200.2 C447.1,197.2 447.7,193.5 448.4,190.2 C449.1,186.9 449.7,182.9 450.4,180.2 C451.1,177.4 451.8,175.2 452.5,173.7 C453.2,172.2 453.8,171.2 454.5,171.1 C455.2,171.0 455.8,171.8 456.5,173.1 C457.2,174.4 458.1,177.6 458.9,179.2 C459.7,180.8 460.6,182.4 461.5,182.6 C462.4,182.8 463.3,181.5 464.1,180.2 C464.9,178.9 465.6,176.3 466.5,174.6 C467.4,172.8 468.5,170.9 469.5,169.7 C470.5,168.4 471.6,167.7 472.5,167.1 C473.4,166.5 474.1,165.8 474.9,166.1 C475.7,166.4 476.6,167.5 477.5,169.1 C478.4,170.7 479.3,174.0 480.1,175.8 C480.9,177.7 481.6,179.0 482.5,180.2 C483.4,181.4 484.5,183.0 485.5,183.2 C486.5,183.4 487.6,182.0 488.6,181.2 C489.6,180.4 490.8,178.8 491.6,178.6 C492.4,178.4 492.9,178.6 493.6,180.2 C494.3,181.8 494.9,184.5 495.6,188.2 C496.3,191.9 496.9,197.4 497.6,202.2 C498.3,207.0 499.0,212.5 499.6,217.0 C500.2,221.5 500.7,225.1 501.4,229.0 C502.1,232.9 502.9,237.8 503.6,240.3 C504.3,242.9 504.7,244.6 505.4,244.3 C506.1,244.0 506.8,241.0 507.6,238.3 C508.4,235.6 509.3,230.9 510.0,228.2 C510.7,225.5 511.3,223.6 512.0,222.2 C512.7,220.8 513.3,219.9 514.0,219.6 C514.7,219.3 515.5,220.2 516.4,220.6 C517.2,221.0 518.1,222.3 519.1,222.2 C520.1,222.1 521.3,220.5 522.1,220.2 C522.9,219.9 523.4,219.8 524.1,220.6 C524.8,221.4 525.4,223.2 526.1,225.2 C526.8,227.1 527.4,230.3 528.1,232.3 C528.8,234.3 529.3,236.1 530.1,237.3 C530.9,238.5 532.1,239.3 533.1,239.7 C534.1,240.1 535.1,239.9 536.1,239.9 C537.1,239.9 538.2,240.1 539.1,239.7 C540.0,239.3 540.7,238.9 541.5,237.3 C542.3,235.7 542.9,233.8 543.7,230.3 C544.5,226.8 545.3,221.2 546.1,216.2 C546.9,211.2 547.7,205.2 548.5,200.2 C549.3,195.2 550.2,190.1 551.1,186.1 C552.0,182.1 552.9,178.7 553.7,176.1 C554.6,173.5 555.4,171.7 556.2,170.5 C557.0,169.3 557.8,168.7 558.6,168.7 C559.4,168.7 560.1,169.1 560.8,170.5 C561.5,171.9 562.0,174.0 562.6,177.1 C563.2,180.2 563.9,184.9 564.6,189.1 C565.3,193.3 566.0,198.7 566.6,202.2 C567.2,205.7 567.6,208.3 568.2,210.2 C568.8,212.1 569.4,213.1 570.2,213.8 C571.0,214.5 572.2,214.4 573.2,214.6 C574.2,214.8 575.2,214.9 576.2,215.2 C577.2,215.5 578.3,216.2 579.2,216.2 C580.1,216.2 581.0,215.9 581.8,215.2 C582.6,214.5 583.3,213.4 584.2,212.2 C585.1,211.0 586.2,209.6 587.2,208.2 C588.2,206.8 589.3,205.3 590.3,203.8 C591.3,202.3 592.3,201.0 593.3,199.2 C594.3,197.4 595.3,195.3 596.3,193.1 C597.3,190.9 598.4,188.0 599.3,186.1 C600.2,184.2 601.2,182.5 601.9,181.7 C602.6,180.9 602.9,181.0 603.5,181.1 C604.1,181.2 604.6,181.3 605.3,182.5 C606.0,183.7 607.1,186.2 607.9,188.1 C608.7,190.0 609.5,191.8 610.3,194.2 C611.1,196.5 611.9,199.0 612.7,202.2 C613.5,205.4 614.5,210.0 615.3,213.2 C616.1,216.4 616.6,219.3 617.3,221.2 C618.0,223.1 618.7,224.5 619.3,224.8 C619.9,225.1 620.3,224.6 620.9,223.2 C621.5,221.8 622.0,219.4 622.7,216.2 C623.5,213.0 624.5,208.5 625.4,204.2 C626.3,199.8 627.4,194.4 628.4,190.1 C629.4,185.8 630.4,181.8 631.4,178.1 C632.4,174.4 633.5,170.9 634.4,168.1 C635.3,165.3 636.2,162.8 637.0,161.1 C637.8,159.4 638.8,158.7 639.4,158.1 C640.0,157.5 639.9,157.4 640.4,157.6 C640.9,157.8 641.7,158.0 642.4,159.1 C643.1,160.2 644.0,161.6 644.8,164.1 C645.6,166.6 646.6,170.6 647.4,174.1 C648.2,177.6 648.7,181.1 649.4,185.1 C650.1,189.1 650.7,194.0 651.4,198.2 C652.1,202.4 652.7,206.5 653.4,210.2 C654.1,213.9 654.6,216.8 655.4,220.2 C656.2,223.5 657.2,227.1 658.0,230.3 C658.8,233.5 659.6,236.9 660.4,239.3 C661.1,241.7 661.9,243.6 662.5,244.7 C663.1,245.8 663.4,246.3 663.9,245.9 C664.4,245.5 664.9,244.9 665.5,242.3 C666.1,239.7 666.8,234.2 667.5,230.3 C668.2,226.5 668.9,221.8 669.5,219.2 C670.1,216.6 670.6,215.4 671.1,214.6 C671.6,213.8 672.0,213.8 672.5,214.6 C673.0,215.4 673.5,216.9 674.1,219.2 C674.7,221.5 675.4,225.0 676.1,228.2 C676.8,231.4 677.7,235.3 678.5,238.3 C679.3,241.3 680.3,244.2 681.1,246.3 C681.9,248.4 682.9,250.0 683.5,250.9 C684.1,251.8 684.4,252.1 684.9,251.8 C685.4,251.5 685.9,251.2 686.5,249.3 C687.1,247.4 687.8,244.2 688.5,240.3 C689.2,236.5 689.8,231.2 690.5,226.2 C691.2,221.2 691.8,215.2 692.5,210.2 C693.2,205.2 693.8,200.0 694.5,196.2 C695.2,192.3 695.9,189.3 696.6,187.1 C697.3,184.8 697.9,183.6 698.6,182.7 C699.3,181.8 699.9,181.4 700.6,181.5 C701.3,181.6 702.2,182.3 703.0,183.1 C703.8,183.9 704.7,185.5 705.6,186.5 C706.5,187.5 707.4,188.3 708.2,189.1 C709.0,189.9 709.8,190.2 710.6,191.3 C711.4,192.4 712.2,194.1 713.0,195.5 C713.8,196.9 714.9,198.9 715.6,199.7 C716.3,200.5 716.3,200.7 717.0,200.3 C717.7,199.9 718.8,199.0 719.6,197.3 C720.4,195.6 721.2,193.2 722.0,190.3 C722.8,187.5 723.6,183.4 724.4,180.2 C725.2,177.0 726.1,173.5 727.0,171.2 C727.9,168.9 728.9,167.5 729.7,166.6 C730.5,165.7 731.0,165.9 731.7,165.6 C732.4,165.3 733.0,165.5 733.7,164.6 C734.4,163.7 735.2,161.9 736.1,160.2 C737.0,158.5 738.1,156.0 739.1,154.2 C740.1,152.3 741.2,150.5 742.1,149.1 C743.0,147.7 743.7,146.5 744.5,145.7 C745.3,144.9 745.9,144.4 746.7,144.5 C747.5,144.6 748.3,145.4 749.1,146.5 C749.9,147.6 750.9,149.2 751.7,151.1 C752.5,153.0 753.3,155.5 754.1,158.2 C754.9,160.9 755.7,163.5 756.5,167.2 C757.3,170.9 758.3,175.3 759.1,180.2 C759.9,185.0 760.5,190.5 761.1,196.3 C761.7,202.1 762.0,207.7 762.5,215.0 C763.0,222.3 763.7,231.9 764.2,240.1 C764.8,248.3 765.3,255.8 765.8,264.1 C766.3,272.5 766.9,281.8 767.4,290.2 C767.9,298.6 768.5,306.9 769.0,314.3 C769.5,321.7 770.1,329.1 770.6,334.3 C771.1,339.5 771.5,343.2 771.8,345.3 C772.1,347.4 772.3,347.2 772.6,347.0 C772.9,346.8 773.2,347.4 773.6,344.3 C774.0,341.2 774.7,334.7 775.2,328.3 C775.7,321.9 776.3,313.9 776.8,306.2 C777.3,298.5 777.8,290.2 778.4,282.2 C779.0,274.2 779.6,265.5 780.2,258.1 C780.8,250.8 781.3,244.4 781.8,238.1 C782.3,231.8 782.9,225.3 783.4,220.3 C783.9,215.3 784.1,212.1 784.6,208.3 C785.1,204.5 785.6,200.4 786.2,197.3 C786.8,194.2 787.5,191.5 788.2,189.9 C788.9,188.3 789.5,188.1 790.2,187.6 C790.9,187.1 791.9,187.4 792.6,187.2 C793.3,187.0 793.9,187.1 794.6,186.2 C795.3,185.3 795.9,183.5 796.6,181.8 C797.3,180.1 798.0,177.7 798.6,176.2 C799.2,174.7 799.8,173.3 800.3,172.6 C800.8,171.9 801.4,171.5 801.9,171.8 C802.4,172.1 802.8,172.6 803.3,174.2 C803.8,175.8 804.3,178.5 804.9,181.2 C805.5,183.9 806.1,187.1 806.7,190.3 C807.3,193.5 807.8,197.1 808.3,200.3 C808.8,203.5 809.4,207.0 809.9,209.3 C810.4,211.6 810.8,213.3 811.3,214.3 C811.8,215.3 812.1,215.6 812.7,215.3 C813.3,215.0 814.0,213.1 814.7,212.3 C815.4,211.5 816.1,210.5 816.7,210.3 C817.3,210.1 817.7,210.1 818.3,210.9 C818.9,211.7 819.6,213.7 820.3,215.3 C821.0,216.9 821.6,219.0 822.3,220.3 C823.0,221.6 823.8,222.7 824.3,223.3 C824.8,223.9 825.0,224.3 825.6,224.1 C826.2,223.9 827.1,223.2 827.9,221.9 C828.7,220.6 829.4,218.6 830.3,216.3 C831.2,214.0 832.3,211.0 833.3,208.3 C834.3,205.6 835.4,202.8 836.4,200.3 C837.4,197.8 838.5,195.3 839.4,193.3 C840.3,191.3 841.2,189.4 842.0,188.2 C842.8,187.0 843.6,186.7 844.4,186.2 C845.2,185.7 846.2,185.4 847.0,185.4 C847.8,185.4 848.6,185.8 849.4,186.2 C850.2,186.6 851.2,187.5 852.0,187.8 C852.8,188.1 853.5,188.1 854.4,188.2 C855.3,188.3 856.4,188.0 857.4,188.2 C858.4,188.4 859.5,188.8 860.4,189.3 C861.3,189.8 862.0,190.3 862.8,191.3 C863.6,192.3 864.5,193.6 865.4,195.3 C866.3,197.0 867.4,199.5 868.4,201.3 C869.4,203.1 870.5,204.7 871.5,206.3 C872.5,207.9 873.5,209.5 874.5,210.7 C875.5,211.9 876.7,213.1 877.5,213.7 C878.3,214.3 878.7,214.5 879.5,214.3 C880.3,214.1 881.3,213.7 882.1,212.7 C882.9,211.7 883.7,210.2 884.5,208.3 C885.3,206.4 886.1,203.6 886.9,201.3 C887.7,199.0 888.5,196.6 889.5,194.6 C890.5,192.6 891.9,190.8 893.0,189.1 C894.1,187.4 895.0,186.3 896.0,184.6 C897.0,182.9 898.1,180.5 899.0,179.1 C899.9,177.7 900.7,176.6 901.5,175.9 C902.3,175.2 903.0,174.9 903.8,174.9 C904.5,174.9 905.2,175.1 906.0,175.9 C906.8,176.7 907.8,178.1 908.6,179.6 C909.5,181.1 910.3,182.8 911.1,185.1 C911.9,187.4 912.8,190.7 913.6,193.5 C914.4,196.3 915.0,199.4 915.8,202.0 C916.5,204.6 917.4,207.1 918.1,208.9 C918.8,210.7 919.2,211.4 919.9,212.6 C920.6,213.8 921.4,214.6 922.2,215.9 C923.0,217.2 923.8,219.0 924.6,220.5 C925.4,222.0 926.2,223.7 926.9,224.7 C927.6,225.7 928.0,226.3 928.7,226.5 C929.4,226.7 930.3,226.1 931.0,226.0 C931.7,225.9 932.4,225.8 932.9,226.0 C933.4,226.2 933.9,225.6 934.2,227.4 C934.5,229.2 934.6,233.4 934.8,236.7 C935.0,240.0 935.1,242.8 935.2,247.0 C935.3,251.2 935.4,246.5 935.6,262.0 C935.8,277.5 936.1,313.0 936.4,340.0 C936.7,367.0 936.9,424.0 937.2,424.0 C937.5,424.0 937.5,368.0 938.2,340.0 C938.9,312.0 940.5,271.5 941.2,256.0 C941.9,240.5 941.7,250.3 942.2,246.9 C942.7,243.5 943.4,239.8 944.0,235.8 C944.6,231.8 945.4,226.8 945.9,222.8 C946.4,218.8 946.9,214.9 947.3,211.7 C947.7,208.4 948.2,205.8 948.5,203.3 C948.8,200.8 949.0,199.4 949.3,196.5 C949.6,193.6 949.9,189.5 950.2,186.1 C950.6,182.7 951.0,179.1 951.4,176.1 C951.8,173.1 952.2,170.3 952.7,168.1 C953.2,165.8 953.6,163.9 954.2,162.6 C954.8,161.3 955.5,160.6 956.2,160.4 C956.9,160.2 957.5,160.7 958.2,161.6 C958.9,162.5 959.5,164.2 960.2,166.1 C960.9,168.0 961.5,170.3 962.2,173.1 C962.9,175.9 963.6,179.6 964.2,183.1 C964.8,186.6 965.3,190.6 965.7,194.0 C966.1,197.4 966.3,200.1 966.7,203.5 C967.1,206.9 967.6,211.0 968.1,214.5 C968.6,218.0 969.4,221.5 970.0,224.7 C970.6,227.9 971.2,231.0 971.8,233.9 C972.4,236.8 973.1,239.9 973.7,242.3 C974.3,244.7 975.2,247.3 975.5,248.3" fill="none" stroke="#5b9bd5" stroke-width="2.5" stroke-linejoin="round" stroke-linecap="round"/>
<path d="M348.6,87 H399" stroke="#44546a" stroke-width="2.5"/>
<path d="M348.6,118.1 H399" stroke="#5b9bd5" stroke-width="2.5"/>
<text class="lg" y="93.9" x="404.2"><tspan class="lat" font-size="22" dy="0" dx="0">CRB</tspan><tspan class="cjk" font-size="20" letter-spacing="3.2" dy="-0.8">现货指数</tspan><tspan class="lat" font-size="22" dy="0.8" dx="-1.5">:</tspan><tspan class="cjk" font-size="20" letter-spacing="3.2" dy="-0.8">工业原料</tspan><tspan class="lat" font-size="22" dy="0.8" dx="-1.5">(</tspan><tspan class="cjk" font-size="20" letter-spacing="3.2" dy="-0.8">对数坐标</tspan><tspan class="lat" font-size="22" dy="0.8" dx="-1.5">)</tspan></text>
<text class="lg" y="125.3" x="404.2"><tspan class="lat" font-size="22" dy="0" dx="0">OECD</tspan><tspan class="cjk" font-size="20" letter-spacing="3.2" dy="-0.8">综合领先指标</tspan><tspan class="lat" font-size="22" dy="0.8" dx="-1.5">(</tspan><tspan class="cjk" font-size="20" letter-spacing="3.2" dy="-0.8">右轴</tspan><tspan class="lat" font-size="22" dy="0.8" dx="-1.5">)</tspan></text>
<g id="wm">
<g opacity="0.95">
<g filter="url(#sh2)" fill="#fff" stroke="#dcdcdc" stroke-width="0.4">
<path d="M892.2,602.9 a14.7,11.9 0 1 1 7.6,10.4 l-3.1,5.3 l1.0,-6.6 a14.7,11.9 0 0 1 -5.5,-9.1 z"/>
</g>
<g filter="url(#sh2)" fill="#fff" stroke="#dcdcdc" stroke-width="0.4">
<path d="M907.2,613.4 a13.3,11.5 0 1 1 19.2,10.3 l3.8,2.9 l-1.2,-4.5 a13.3,11.5 0 0 1 -21.8,-8.7 z"/>
</g>
<path d="M907.3,614.6 a13.3,11.5 0 0 1 14.6,-12.6" fill="none" stroke="#8a8a8a" stroke-width="0.7"/>
<g fill="#fff" stroke="#a8a8a8" stroke-width="0.55">
<circle cx="900.9" cy="599.0" r="1.6"/><circle cx="912.8" cy="598.7" r="1.6"/>
<circle cx="916.0" cy="609.5" r="1.5"/><circle cx="925.0" cy="609.5" r="1.5"/>
</g>
</g>
<text class="wm" filter="url(#sh)" transform="translate(938.2,620.2) skewX(-14) scale(0.91,1)" letter-spacing="0">宏观野望</text>
</g>
</svg>
</body>
</html>
